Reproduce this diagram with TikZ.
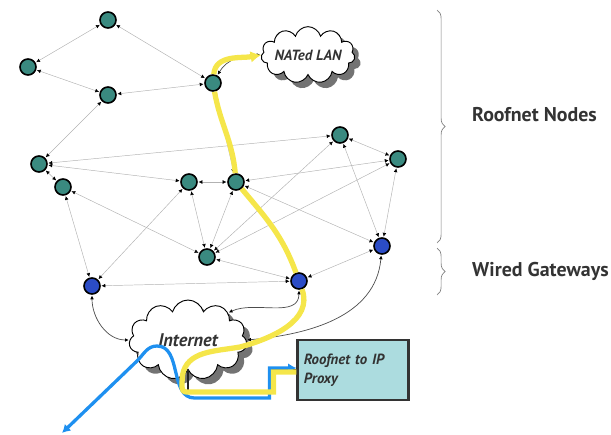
\documentclass[tikz,border=0pt]{standalone}
\usepackage{fontspec}
\setmainfont{PT Sans}
\usepackage{tikz}
\usetikzlibrary{arrows.meta}
\usetikzlibrary{positioning}
\usetikzlibrary{shapes.symbols}
\usetikzlibrary{decorations.pathreplacing}
\definecolor{roofteal}{RGB}{58,138,128}
\definecolor{gateblue}{RGB}{43,76,198}
\definecolor{proxyfill}{RGB}{172,220,223}
\definecolor{routeyellow}{RGB}{245,230,74}
\definecolor{uplinkblue}{RGB}{30,144,240}
\tikzstyle{every node}+=[inner sep=0pt]
\tikzstyle{roof} = [circle, draw, fill=roofteal, line width=1.4pt, minimum size=0.48cm]
\tikzstyle{gate} = [roof, fill=gateblue]
\tikzstyle{line} = [draw, gray!60, line width=0.4pt, >={Latex[length=3.2pt,width=3.2pt,color=black]}, <->, shorten <=0.6pt, shorten >=0.6pt]
\tikzstyle{wire} = [line, black!70, line width=0.6pt]
\tikzstyle{link} = [draw, black!85, line width=1.4pt]
\tikzstyle{net} = [cloud, cloud puffs=11, cloud ignores aspect, draw, fill=white, line width=0.8pt, preaction={draw=none, fill=black!55, transform canvas={shift={(5pt,-5pt)}}}, font=\bfseries\itshape, text=black!80]
\tikzstyle{proxybox} = [rectangle, draw=black!80, fill=proxyfill, line width=1.8pt, minimum width=3.33cm, minimum height=1.8cm, text width=2.95cm, align=left, font=\fontsize{12.6}{16}\selectfont\bfseries\itshape, text=black!80]
\tikzstyle{route} = [draw, routeyellow, line width=4.5pt, -{Latex[length=9pt,width=10pt]}]
\tikzstyle{uplink} = [draw, uplinkblue, line width=2.8pt, {Latex[length=7pt,width=8pt]}-{Latex[length=7pt,width=8pt]}]
\tikzstyle{brace} = [draw, decorate, decoration={brace, amplitude=7pt}, gray, line width=0.6pt]
\tikzstyle{tag} = [anchor=west, font=\fontsize{17}{20}\selectfont\bfseries, text=black!80]

\begin{document}
\begin{tikzpicture}
            \useasboundingbox (0,0) rectangle (18.33,-13.05);
            % Place nodes
            \node [roof] (n0) at (3.24,-0.60) {};
            \node [roof, left of=n0, node distance=2.4cm, yshift=-1.41cm] (n1) {};
            \node [roof, below of=n0, node distance=2.25cm] (n2) {};
            \node [roof, right of=n2, node distance=3.15cm, yshift=0.36cm] (n3) {};
            \node [roof, below of=n2, node distance=2.07cm, xshift=-2.07cm] (n4) {};
            \node [roof, below of=n4, node distance=0.69cm, xshift=0.72cm] (n5) {};
            \node [roof, right of=n4, node distance=4.5cm, yshift=-0.54cm] (n6) {};
            \node [roof, right of=n6, node distance=1.41cm] (n7) {};
            \node [roof, right of=n7, node distance=3.12cm, yshift=1.41cm] (n8) {};
            \node [roof, right of=n8, node distance=1.74cm, yshift=-0.72cm] (n9) {};
            \node [roof, below of=n6, node distance=2.25cm, xshift=0.54cm] (n10) {};
            \node [gate, below of=n5, node distance=2.97cm, xshift=0.87cm] (g0) {};
            \node [gate, right of=n10, node distance=2.76cm, yshift=-0.72cm] (g1) {};
            \node [gate, below of=n9, node distance=2.61cm, xshift=-0.48cm] (g2) {};
            \node [net, right of=n3, node distance=2.85cm, yshift=0.84cm, minimum width=2.7cm, minimum height=1.7cm, font=\fontsize{12.6}{15}\selectfont\bfseries\itshape] (nat) {NATed LAN};
            \node [net, below of=n10, node distance=2.49cm, xshift=-0.57cm, minimum width=3.54cm, minimum height=2.4cm, font=\fontsize{15.6}{18}\selectfont\bfseries\itshape] (inet) {Internet};
            \node [proxybox, below of=g1, node distance=2.67cm, xshift=1.62cm] (proxy) {Roofnet to IP\\Proxy};
            % Draw edges
            \path [line] (n0) -- (n1);
            \path [line] (n0) -- (n3);
            \path [line] (n1) -- (n2);
            \path [line] (n2) -- (n3);
            \path [line] (n2) -- (n4);
            \path [line] (n4) -- (n5);
            \path [line] (n4) -- (n6);
            \path [line] (n4) -- (n8);
            \path [line] (n5) -- (n10);
            \path [line] (n5) -- (g0);
            \path [line] (n6) -- (g0);
            \path [line] (n6) -- (n7);
            \path [line] (n6) -- (n10);
            \path [line] (n3) -- (n7);
            \path [line] (n7) -- (n10);
            \path [line] (n7) -- (n9);
            \path [line] (n7) -- (g2);
            \path [line] (n8) -- (n9);
            \path [line] (n8) -- (n10);
            \path [line] (n8) -- (g2);
            \path [line] (n9) -- (n10);
            \path [line] (n9) -- (g2);
            \path [line] (n10) -- (g1);
            \path [line] (g0) -- (g1);
            \path [line] (g1) -- (g2);
            \path [wire] (n3) to[out=60, in=180] (nat.west);
            \path [wire] (g0) to[out=-90, in=180] (inet.west);
            \path [wire] (g1) to[out=-90, in=25] (inet.north east);
            \path [wire] (g2) to[out=-95, in=5] (inet.east);
            % Paths through the mesh
            \path [link] (proxy.west) -- ++(-0.75,0) -- ++(0,-0.66) -| (inet.south);
            \coordinate (exit) at (1.86,-12.99);
            \path [uplink] ([yshift=0.06cm]proxy.west) -- ++(-0.81,0) -- ++(0,-0.9) -- ++(-2.25,0)
                to[out=180, in=0] ([shift={(-0.93,-0.18)}]inet.center)
                to[out=180, in=45] ++(-0.6,-0.45) -- (exit);
            \path [route] ([yshift=-0.06cm]proxy.west) -- ++(-0.69,0) -- ++(0,-0.6) -- ++(-2.61,0)
                to[out=180, in=-90] ++(-0.12,0.5)
                to[out=80, in=190] ([shift={(1.56,-0.21)}]inet.center)
                to[out=15, in=-70] (g1)
                to[out=110, in=-50] (n7)
                to[out=95, in=-80] (n3)
                to[out=85, in=190] (nat.west);
            % Braces
            \coordinate (b0) at (13.11,-0.30);
            \coordinate (b1) at (13.11,-7.29);
            \coordinate (b2) at (13.11,-7.44);
            \coordinate (b3) at (13.11,-8.85);
            \path [brace] (b0) -- (b1);
            \path [brace] (b2) -- (b3);
            \node [tag] (t0) at (14.16,-3.45) {Roofnet Nodes};
            \node [tag] (t1) at (14.16,-8.13) {Wired Gateways};
          \end{tikzpicture}
\end{document}
